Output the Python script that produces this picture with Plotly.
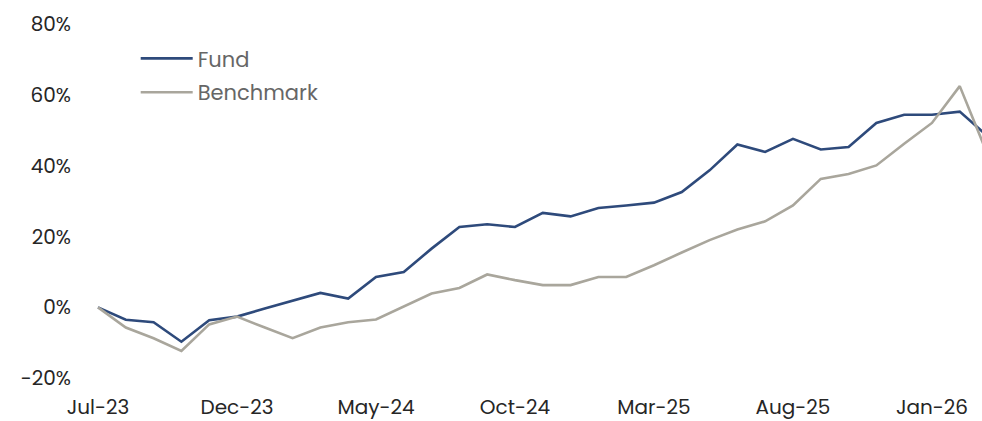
import plotly.graph_objects as go

months = ["Jul-23", "Aug-23", "Sep-23", "Oct-23", "Nov-23", "Dec-23",
          "Jan-24", "Feb-24", "Mar-24", "Apr-24", "May-24", "Jun-24",
          "Jul-24", "Aug-24", "Sep-24", "Oct-24", "Nov-24", "Dec-24",
          "Jan-25", "Feb-25", "Mar-25", "Apr-25", "May-25", "Jun-25",
          "Jul-25", "Aug-25", "Sep-25", "Oct-25", "Nov-25", "Dec-25",
          "Jan-26", "Feb-26", "Mar-26"]

fund = [0, -3.5, -4.2, -9.7, -3.6, -2.6, -0.3, 1.8, 4.1, 2.5, 8.6, 10.0,
        16.6, 22.7, 23.5, 22.7, 26.7, 25.7, 28.1, 28.8, 29.6, 32.6, 38.7, 46.0,
        43.9, 47.6, 44.6, 45.3, 52.1, 54.4, 54.4, 55.3, 48.4]

benchmark = [0, -5.7, -8.7, -12.3, -4.8, -2.6, -5.7, -8.7, -5.7, -4.2, -3.4, 0.2,
             3.9, 5.5, 9.3, 7.7, 6.3, 6.3, 8.6, 8.6, 11.9, 15.5, 19.0, 22.0,
             24.3, 28.8, 36.3, 37.7, 40.1, 46.2, 52.1, 62.5, 43.2]

x_ticks = ["Jul-23", "Dec-23", "May-24", "Oct-24", "Mar-25", "Aug-25", "Jan-26"]
y_ticks = [-20, 0, 20, 40, 60, 80]
y_tick_labels = ["-20%", "0%", "20%", "40%", "60%", "80%"]

FONT = "Poppins, Inter, Lato, sans-serif"

fig = go.Figure()
fig.add_trace(go.Scatter(x=months, y=fund, name="Fund", mode="lines",
                         line=dict(color="#2E4A7B", width=2.6), legend="legend"))
fig.add_trace(go.Scatter(x=months, y=benchmark, name="Benchmark", mode="lines",
                         line=dict(color="#A9A69C", width=2.6), legend="legend2"))

legend_common = dict(xanchor="left", yanchor="top", bgcolor="rgba(0,0,0,0)",
                     itemwidth=52,
                     font=dict(family=FONT, size=21, color="#666666"))

fig.update_layout(
    width=982, height=421,
    margin=dict(l=72, r=0, t=10, b=31),
    paper_bgcolor="white", plot_bgcolor="white",
    font=dict(family=FONT, size=20, color="#262626"),
    showlegend=True,
    legend=dict(x=0.070, y=0.925, **legend_common),
    legend2=dict(x=0.070, y=0.835, **legend_common),
    xaxis=dict(type="category", range=[-0.935, 31.8], tickmode="array",
               tickvals=x_ticks, ticktext=x_ticks, showgrid=False,
               zeroline=False, showline=False, ticks="", ticklabelstandoff=7),
    yaxis=dict(range=[-22.2, 84.0], tickmode="array", tickvals=y_ticks,
               ticktext=y_tick_labels, showgrid=False, zeroline=False,
               showline=False, ticks=""),
)

fig.write_html(
    "out.html",
    config={"displayModeBar": False},
    post_script="document.body.style.margin='0';document.body.style.overflow='hidden';",
)
